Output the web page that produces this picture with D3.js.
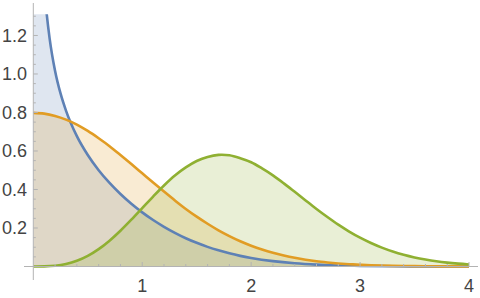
<!DOCTYPE html>
<html>
<head>
<meta charset="utf-8">
<script src="https://cdn.jsdelivr.net/npm/d3@7"></script>
<style>
  html, body { margin: 0; padding: 0; background: #fff; }
  svg { display: block; font-family: "Liberation Sans", Arial, sans-serif; }
</style>
</head>
<body>
<div id="chart"></div>
<script>
// x positions sampled along each curve
const xsBlue = [0.001, 0.02, 0.05, 0.08, 0.1, 0.12, 0.15, 0.2, 0.25, 0.3, 0.4, 0.5, 0.6, 0.7, 0.8, 0.9,
  1.0, 1.1, 1.2, 1.3, 1.4, 1.5, 1.6, 1.7, 1.8, 1.9, 2.0, 2.2, 2.4, 2.6, 2.8, 3.0, 3.3, 3.6, 4.0];
const blueValues = [14.7, 3.28, 2.07, 1.635, 1.459, 1.329, 1.184, 1.016, 0.899, 0.810, 0.677, 0.579, 0.500, 0.434, 0.3765, 0.326,
  0.2813, 0.2414, 0.2062, 0.175, 0.147, 0.123, 0.102, 0.084, 0.0684, 0.0552, 0.0444, 0.0278, 0.0168, 0.0098, 0.0055, 0.003, 0.0011, 0.0004, 0.0001];

const xsGrid = [0, 0.1, 0.2, 0.3, 0.4, 0.5, 0.6, 0.7, 0.8, 0.9, 1.0, 1.1, 1.2, 1.3, 1.4, 1.5, 1.6, 1.7, 1.8, 1.9,
  2.0, 2.1, 2.2, 2.3, 2.4, 2.5, 2.6, 2.7, 2.8, 2.9, 3.0, 3.1, 3.2, 3.3, 3.4, 3.5, 3.6, 3.7, 3.8, 3.9, 4.0];
const orangeValues = [0.798, 0.794, 0.782, 0.763, 0.737, 0.704, 0.666, 0.625, 0.579, 0.532, 0.484, 0.436, 0.389, 0.343, 0.299, 0.259, 0.222, 0.188, 0.158, 0.131,
  0.108, 0.088, 0.071, 0.057, 0.045, 0.035, 0.027, 0.021, 0.016, 0.012, 0.0089, 0.0065, 0.0048, 0.0035, 0.0025, 0.0017, 0.0012, 0.0009, 0.0006, 0.0004, 0.0003];
const greenValues = [0, 0.0005, 0.0039, 0.0129, 0.0295, 0.0552, 0.0902, 0.1343, 0.1859, 0.2431, 0.3033, 0.3634, 0.4208, 0.4724, 0.5145, 0.5479, 0.5693, 0.5797, 0.5774, 0.5624,
  0.5413, 0.5094, 0.4733, 0.4319, 0.3878, 0.343, 0.2988, 0.2569, 0.2173, 0.1817, 0.1499, 0.122, 0.098, 0.0776, 0.0607, 0.0469, 0.0359, 0.0269, 0.0200, 0.0148, 0.0107];

const xTicks = [1, 2, 3, 4];
const yTicks = [0.2, 0.4, 0.6, 0.8, 1.0, 1.2];
const yTickLabels = ['0.2', '0.4', '0.6', '0.8', '1.0', '1.2'];

const series = [
  { name: 'blue', xs: xsBlue, ys: blueValues, color: '#5e81b5', curve: d3.curveMonotoneX },
  { name: 'orange', xs: xsGrid, ys: orangeValues, color: '#e19c24', curve: d3.curveCatmullRom.alpha(0.5) },
  { name: 'green', xs: xsGrid, ys: greenValues, color: '#8fb032', curve: d3.curveCatmullRom.alpha(0.5) }
];

const W = 480, H = 298;
const x = d3.scaleLinear().domain([0, 4]).range([33.3, 469]);
const y = d3.scaleLinear().domain([0, 1.31]).range([266.5, 14.3]);

const svg = d3.select('#chart').append('svg')
  .attr('width', W).attr('height', H);

svg.append('defs').append('clipPath').attr('id', 'plotclip')
  .append('rect')
  .attr('x', x(0)).attr('y', y(1.31))
  .attr('width', x(4) - x(0) + 4).attr('height', y(0) - y(1.31) + 4);

const plot = svg.append('g').attr('clip-path', 'url(#plotclip)');

series.forEach(s => {
  s.pts = s.xs.map((v, i) => [v, s.ys[i]]);
  s.area = d3.area().x(d => x(d[0])).y0(y(0)).y1(d => y(d[1])).curve(s.curve);
  s.line = d3.line().x(d => x(d[0])).y(d => y(d[1])).curve(s.curve);
});

// fills first, then lines on top
plot.selectAll('.fill')
  .data(series)
  .join('path')
  .attr('class', 'fill')
  .attr('d', d => d.area(d.pts))
  .attr('fill', d => d.color)
  .attr('fill-opacity', 0.2);

// axes
const axisColor = '#b3b3b3';
const ax = svg.append('g');
ax.append('line')
  .attr('x1', 24).attr('x2', 478)
  .attr('y1', y(0)).attr('y2', y(0))
  .attr('stroke', axisColor).attr('stroke-width', 1);
ax.append('line')
  .attr('x1', x(0)).attr('x2', x(0))
  .attr('y1', 3).attr('y2', 280)
  .attr('stroke', axisColor).attr('stroke-width', 1);

// x ticks (major + minor)
const xMinor = d3.range(0.2, 4.01, 0.2).filter(v => Math.abs(v - Math.round(v)) > 1e-6);
ax.selectAll('.xminor').data(xMinor).join('line')
  .attr('x1', d => x(d)).attr('x2', d => x(d))
  .attr('y1', y(0)).attr('y2', y(0) - 2.5)
  .attr('stroke', axisColor);
ax.selectAll('.xmajor').data(xTicks).join('line')
  .attr('x1', d => x(d)).attr('x2', d => x(d))
  .attr('y1', y(0)).attr('y2', y(0) - 4.5)
  .attr('stroke', axisColor);
ax.selectAll('.xlab').data(xTicks).join('text')
  .attr('x', d => x(d)).attr('y', 292)
  .attr('text-anchor', 'middle')
  .attr('font-size', 18).attr('fill', '#444')
  .text(d => d);

// y ticks
const yMinor = d3.range(0.05, 1.31, 0.05).filter(v => Math.abs(v * 5 - Math.round(v * 5)) > 1e-6);
ax.selectAll('.yminor').data(yMinor).join('line')
  .attr('x1', x(0)).attr('x2', x(0) + 2.5)
  .attr('y1', d => y(d)).attr('y2', d => y(d))
  .attr('stroke', axisColor);
ax.selectAll('.ymajor').data(yTicks).join('line')
  .attr('x1', x(0)).attr('x2', x(0) + 4.5)
  .attr('y1', d => y(d)).attr('y2', d => y(d))
  .attr('stroke', axisColor);
ax.selectAll('.ylab').data(yTicks).join('text')
  .attr('x', 27).attr('y', d => y(d) + 6.5)
  .attr('text-anchor', 'end')
  .attr('font-size', 18).attr('fill', '#444')
  .text((d, i) => yTickLabels[i]);

plot.selectAll('.curve')
  .data(series)
  .join('path')
  .attr('class', 'curve')
  .attr('d', d => d.line(d.pts))
  .attr('fill', 'none')
  .attr('stroke', d => d.color)
  .attr('stroke-width', 2.6)
  .attr('stroke-linejoin', 'round');
</script>
</body>
</html>
